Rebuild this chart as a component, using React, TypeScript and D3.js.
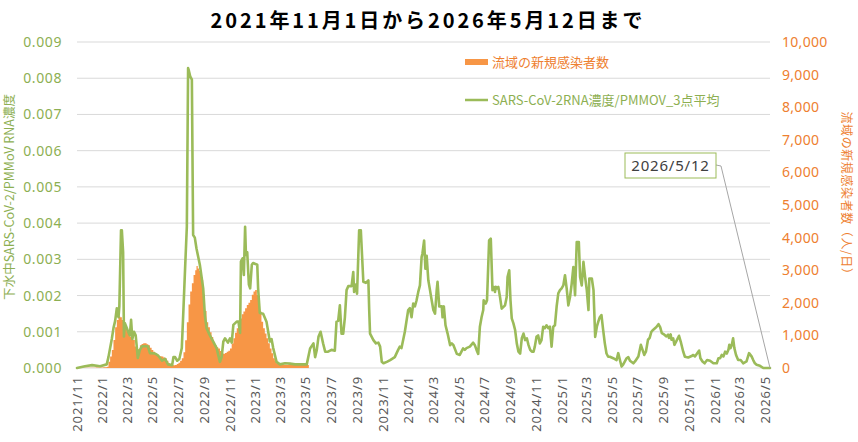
import React from "react";
import * as d3 from "d3";

const TITLE = "2021年11月1日から2026年5月12日まで";
const LEFT_TITLE = "下水中SARS-CoV-2/PMMoV RNA濃度";
const RIGHT_TITLE = "流域の新規感染者数（人/日）";
const LEGEND_CASES = "流域の新規感染者数";
const LEGEND_RNA = "SARS-CoV-2RNA濃度/PMMOV_3点平均";
const CALLOUT = "2026/5/12";

const startDate = "2021-11-01";
const endDate = "2026-05-12";

const leftTicks = [0, 0.001, 0.002, 0.003, 0.004, 0.005, 0.006, 0.007, 0.008, 0.009];
const rightTicks = [0, 1000, 2000, 3000, 4000, 5000, 6000, 7000, 8000, 9000, 10000];
const xTickLabels = [
  "2021/11", "2022/1", "2022/3", "2022/5", "2022/7", "2022/9", "2022/11",
  "2023/1", "2023/3", "2023/5", "2023/7", "2023/9", "2023/11",
  "2024/1", "2024/3", "2024/5", "2024/7", "2024/9", "2024/11",
  "2025/1", "2025/3", "2025/5", "2025/7", "2025/9", "2025/11",
  "2026/1", "2026/3", "2026/5",
];

// daily new cases in the basin (right axis), sampled readings
const cases: [string, number][] = [
  ["2021-11-01", 10], ["2021-11-16", 8], ["2021-12-01", 10], ["2021-12-16", 12], ["2021-12-26", 15],
  ["2022-01-03", 20], ["2022-01-07", 25], ["2022-01-11", 40], ["2022-01-15", 190], ["2022-01-19", 350],
  ["2022-01-23", 550], ["2022-01-27", 860], ["2022-01-31", 1250], ["2022-02-04", 1470], ["2022-02-08", 1590],
  ["2022-02-12", 1560], ["2022-02-16", 1470], ["2022-02-19", 1320], ["2022-02-23", 1220], ["2022-02-28", 1110],
  ["2022-03-03", 1060], ["2022-03-07", 960], ["2022-03-11", 910], ["2022-03-15", 860], ["2022-03-19", 660],
  ["2022-03-23", 550], ["2022-03-27", 580], ["2022-03-31", 700], ["2022-04-04", 740], ["2022-04-08", 760],
  ["2022-04-12", 760], ["2022-04-16", 730], ["2022-04-20", 700], ["2022-04-24", 620], ["2022-04-28", 550],
  ["2022-05-02", 500], ["2022-05-06", 450], ["2022-05-10", 400], ["2022-05-14", 350], ["2022-05-18", 360],
  ["2022-05-22", 350], ["2022-05-26", 320], ["2022-05-30", 300], ["2022-06-03", 220], ["2022-06-07", 145],
  ["2022-06-11", 110], ["2022-06-15", 90], ["2022-06-19", 85], ["2022-06-23", 90], ["2022-06-27", 120],
  ["2022-07-01", 160], ["2022-07-05", 220], ["2022-07-09", 300], ["2022-07-13", 480], ["2022-07-17", 850],
  ["2022-07-21", 1400], ["2022-07-25", 1950], ["2022-07-29", 2350], ["2022-08-02", 2600], ["2022-08-06", 2850],
  ["2022-08-10", 3000], ["2022-08-13", 3130], ["2022-08-16", 3050], ["2022-08-19", 2980], ["2022-08-22", 2850],
  ["2022-08-25", 2700], ["2022-08-29", 2250], ["2022-09-02", 1750], ["2022-09-06", 1400], ["2022-09-10", 1250],
  ["2022-09-14", 1100], ["2022-09-18", 950], ["2022-09-22", 800], ["2022-09-26", 700], ["2022-09-30", 640],
  ["2022-10-04", 600], ["2022-10-08", 520], ["2022-10-12", 450], ["2022-10-16", 440], ["2022-10-20", 460],
  ["2022-10-24", 500], ["2022-10-28", 530], ["2022-11-01", 600], ["2022-11-05", 750], ["2022-11-09", 910],
  ["2022-11-13", 1080], ["2022-11-17", 1220], ["2022-11-21", 1380], ["2022-11-25", 1520], ["2022-11-29", 1650],
  ["2022-12-03", 1730], ["2022-12-07", 1830], ["2022-12-11", 1930], ["2022-12-15", 2000], ["2022-12-19", 2085],
  ["2022-12-23", 2250], ["2022-12-27", 2350], ["2022-12-31", 2390], ["2023-01-04", 2240], ["2023-01-07", 2040],
  ["2023-01-11", 1730], ["2023-01-15", 1420], ["2023-01-19", 1220], ["2023-01-23", 1060], ["2023-01-27", 910],
  ["2023-01-31", 760], ["2023-02-04", 600], ["2023-02-08", 450], ["2023-02-12", 300], ["2023-02-16", 210],
  ["2023-02-20", 145], ["2023-02-24", 120], ["2023-03-04", 100], ["2023-03-12", 95], ["2023-03-20", 100],
  ["2023-03-28", 95], ["2023-04-05", 100], ["2023-04-13", 105], ["2023-04-21", 100], ["2023-04-29", 100],
  ["2023-05-05", 95],
];
const casesEnd = "2023-05-08";

// SARS-CoV-2 RNA / PMMoV, 3-point average (left axis)
const rna: [string, number][] = [
  ["2021-11-01", 0], ["2021-11-20", 0.00005], ["2021-12-07", 0.00008], ["2021-12-26", 0.00005],
  ["2022-01-11", 0.0001], ["2022-01-15", 0.0003], ["2022-01-23", 0.0008], ["2022-01-27", 0.0011],
  ["2022-01-31", 0.0013], ["2022-02-04", 0.00165], ["2022-02-08", 0.0014], ["2022-02-10", 0.0017],
  ["2022-02-14", 0.0038], ["2022-02-16", 0.0038], ["2022-02-19", 0.0032], ["2022-02-21", 0.00087],
  ["2022-02-23", 0.00124], ["2022-02-28", 0.0011], ["2022-03-03", 0.001], ["2022-03-07", 0.0009],
  ["2022-03-10", 0.00133], ["2022-03-13", 0.0008], ["2022-03-17", 0.001], ["2022-03-21", 0.0009],
  ["2022-03-26", 0.00028], ["2022-03-31", 0.0005], ["2022-04-05", 0.0006], ["2022-04-19", 0.0006],
  ["2022-04-24", 0.00041], ["2022-05-06", 0.0004], ["2022-05-13", 0.00035], ["2022-05-23", 0.0002],
  ["2022-05-30", 0.00025], ["2022-06-06", 0.0001], ["2022-06-16", 0.00008], ["2022-06-19", 0.0003],
  ["2022-06-23", 0.0003], ["2022-06-28", 0.0002], ["2022-07-03", 0.00025], ["2022-07-09", 0.00055],
  ["2022-07-13", 0.00165], ["2022-07-17", 0.0028], ["2022-07-21", 0.0039], ["2022-07-24", 0.00828],
  ["2022-07-26", 0.0082], ["2022-07-29", 0.00805], ["2022-08-02", 0.00796], ["2022-08-05", 0.00367],
  ["2022-08-09", 0.0036], ["2022-08-13", 0.0033], ["2022-08-21", 0.00285], ["2022-08-29", 0.0022],
  ["2022-09-02", 0.00146], ["2022-09-06", 0.0011], ["2022-09-14", 0.0009], ["2022-09-22", 0.00073],
  ["2022-09-30", 0.00055], ["2022-10-08", 0.00017], ["2022-10-12", 0.0003], ["2022-10-16", 0.00073],
  ["2022-10-20", 0.00082], ["2022-10-27", 0.0007], ["2022-11-01", 0.00082], ["2022-11-05", 0.0007],
  ["2022-11-09", 0.00119], ["2022-11-17", 0.00128], ["2022-11-21", 0.00128], ["2022-11-25", 0.00097],
  ["2022-11-27", 0.00294], ["2022-12-01", 0.00303], ["2022-12-04", 0.00257], ["2022-12-07", 0.0039],
  ["2022-12-09", 0.00312], ["2022-12-12", 0.0032], ["2022-12-16", 0.0023], ["2022-12-19", 0.0022],
  ["2022-12-23", 0.00285], ["2022-12-26", 0.0029], ["2023-01-05", 0.00285], ["2023-01-07", 0.0022],
  ["2023-01-11", 0.00152], ["2023-01-19", 0.0015], ["2023-01-27", 0.00128], ["2023-02-04", 0.00073],
  ["2023-02-08", 0.0008], ["2023-02-12", 0.00055], ["2023-02-20", 0.00017], ["2023-02-28", 0.0001],
  ["2023-03-12", 0.00013], ["2023-03-24", 0.00012], ["2023-04-05", 0.0001], ["2023-04-17", 0.0001],
  ["2023-05-03", 0.0001], ["2023-05-11", 0.00054], ["2023-05-19", 0.00068], ["2023-05-23", 0.0003],
  ["2023-05-27", 0.0005], ["2023-05-31", 0.00086], ["2023-06-05", 0.001], ["2023-06-11", 0.00068],
  ["2023-06-16", 0.00045], ["2023-06-23", 0.00045], ["2023-07-01", 0.0005], ["2023-07-09", 0.00048],
  ["2023-07-13", 0.00128], ["2023-07-17", 0.0013], ["2023-07-21", 0.00173], ["2023-07-25", 0.00095],
  ["2023-07-29", 0.00095], ["2023-08-02", 0.0014], ["2023-08-06", 0.00215], ["2023-08-10", 0.00226],
  ["2023-08-18", 0.00226], ["2023-08-22", 0.00265], ["2023-08-24", 0.0021], ["2023-08-28", 0.0023],
  ["2023-08-31", 0.00205], ["2023-09-05", 0.0038], ["2023-09-09", 0.0038], ["2023-09-15", 0.00238],
  ["2023-09-21", 0.00235], ["2023-09-27", 0.00242], ["2023-09-29", 0.0016], ["2023-10-01", 0.00095],
  ["2023-10-09", 0.00077], ["2023-10-15", 0.00068], ["2023-10-21", 0.0007], ["2023-10-25", 0.00059],
  ["2023-10-29", 0.00017], ["2023-11-02", 0.00013], ["2023-11-10", 0.00017], ["2023-11-18", 0.00022],
  ["2023-11-29", 0.0003], ["2023-12-07", 0.0005], ["2023-12-11", 0.00059], ["2023-12-15", 0.00055],
  ["2023-12-23", 0.001], ["2023-12-31", 0.0016], ["2024-01-04", 0.00165], ["2024-01-08", 0.0014],
  ["2024-01-12", 0.00178], ["2024-01-16", 0.0017], ["2024-01-20", 0.00187], ["2024-01-24", 0.0021],
  ["2024-01-28", 0.00228], ["2024-02-01", 0.00306], ["2024-02-03", 0.00316], ["2024-02-07", 0.00352],
  ["2024-02-10", 0.00274], ["2024-02-13", 0.0031], ["2024-02-17", 0.00242], ["2024-02-21", 0.00215],
  ["2024-02-25", 0.00187], ["2024-02-29", 0.0016], ["2024-03-04", 0.0015], ["2024-03-08", 0.00215],
  ["2024-03-10", 0.00238], ["2024-03-14", 0.0017], ["2024-03-20", 0.0017], ["2024-03-22", 0.0014],
  ["2024-03-25", 0.0017], ["2024-03-29", 0.00118], ["2024-04-03", 0.00095], ["2024-04-09", 0.00063],
  ["2024-04-13", 0.00068], ["2024-04-17", 0.00063], ["2024-04-25", 0.00039], ["2024-05-02", 0.00036],
  ["2024-05-10", 0.00054], ["2024-05-14", 0.0005], ["2024-05-18", 0.00055], ["2024-05-26", 0.00059],
  ["2024-06-03", 0.0007], ["2024-06-07", 0.00063], ["2024-06-11", 0.0005], ["2024-06-15", 0.00039],
  ["2024-06-19", 0.00114], ["2024-06-23", 0.0014], ["2024-06-27", 0.0016], ["2024-06-28", 0.00187],
  ["2024-07-03", 0.00178], ["2024-07-06", 0.00187], ["2024-07-11", 0.00352], ["2024-07-15", 0.00357],
  ["2024-07-19", 0.00215], ["2024-07-22", 0.00224], ["2024-07-25", 0.0021], ["2024-07-27", 0.00224],
  ["2024-07-30", 0.0022], ["2024-08-02", 0.00224], ["2024-08-06", 0.00196], ["2024-08-10", 0.00164],
  ["2024-08-18", 0.00173], ["2024-08-22", 0.00196], ["2024-08-24", 0.00251], ["2024-08-28", 0.0027],
  ["2024-08-31", 0.00187], ["2024-09-03", 0.00137], ["2024-09-07", 0.00123], ["2024-09-11", 0.00105],
  ["2024-09-15", 0.00068], ["2024-09-19", 0.00045], ["2024-09-23", 0.0004], ["2024-09-27", 0.00082],
  ["2024-10-01", 0.00095], ["2024-10-05", 0.00077], ["2024-10-09", 0.00082], ["2024-10-13", 0.00063],
  ["2024-10-17", 0.0005], ["2024-10-21", 0.00045], ["2024-10-25", 0.00045], ["2024-10-28", 0.00059],
  ["2024-11-01", 0.00086], ["2024-11-05", 0.0009], ["2024-11-09", 0.00068], ["2024-11-13", 0.00077],
  ["2024-11-17", 0.00114], ["2024-11-21", 0.0011], ["2024-11-25", 0.00118], ["2024-11-29", 0.0011],
  ["2024-12-03", 0.00114], ["2024-12-07", 0.00059], ["2024-12-11", 0.00114], ["2024-12-15", 0.00118],
  ["2024-12-19", 0.00169], ["2024-12-23", 0.00206], ["2024-12-27", 0.00215], ["2024-12-31", 0.0022],
  ["2025-01-04", 0.00228], ["2025-01-08", 0.00256], ["2025-01-12", 0.0022], ["2025-01-16", 0.00173],
  ["2025-01-20", 0.00196], ["2025-01-24", 0.00233], ["2025-01-28", 0.00279], ["2025-02-01", 0.00201],
  ["2025-02-05", 0.00348], ["2025-02-10", 0.00348], ["2025-02-13", 0.00251], ["2025-02-17", 0.00228],
  ["2025-02-21", 0.00293], ["2025-02-25", 0.00251], ["2025-03-01", 0.00215], ["2025-03-05", 0.0016],
  ["2025-03-07", 0.00247], ["2025-03-13", 0.00247], ["2025-03-17", 0.00215], ["2025-03-21", 0.00086],
  ["2025-03-25", 0.00114], ["2025-03-29", 0.0013], ["2025-04-01", 0.0014], ["2025-04-05", 0.00146],
  ["2025-04-09", 0.00105], ["2025-04-13", 0.00068], ["2025-04-17", 0.0004], ["2025-04-21", 0.00031],
  ["2025-04-25", 0.00031], ["2025-05-03", 0.00027], ["2025-05-11", 0.00022], ["2025-05-15", 0.00041],
  ["2025-05-19", 0.00022], ["2025-05-23", 0.00004], ["2025-05-27", 0.0001], ["2025-06-04", 0.00027],
  ["2025-06-08", 0.0003], ["2025-06-12", 0.0002], ["2025-06-20", 0.00013], ["2025-06-24", 0.00018],
  ["2025-07-02", 0.00032], ["2025-07-08", 0.00064], ["2025-07-12", 0.0005], ["2025-07-16", 0.00036],
  ["2025-07-20", 0.00045], ["2025-07-25", 0.00078], ["2025-07-29", 0.00083], ["2025-08-02", 0.001],
  ["2025-08-06", 0.00105], ["2025-08-14", 0.00113], ["2025-08-19", 0.00121], ["2025-08-23", 0.00113],
  ["2025-08-27", 0.00096], ["2025-09-02", 0.00092], ["2025-09-07", 0.00087], ["2025-09-11", 0.00092],
  ["2025-09-13", 0.00083], ["2025-09-17", 0.00093], ["2025-09-19", 0.00078], ["2025-09-23", 0.00082],
  ["2025-09-26", 0.00064], ["2025-09-30", 0.00073], ["2025-10-07", 0.00089], ["2025-10-11", 0.00073],
  ["2025-10-17", 0.00045], ["2025-10-21", 0.00031], ["2025-10-29", 0.00029], ["2025-11-06", 0.00033],
  ["2025-11-10", 0.00036], ["2025-11-14", 0.00032], ["2025-11-19", 0.0004], ["2025-11-24", 0.00048],
  ["2025-11-27", 0.00027], ["2025-12-02", 0.00018], ["2025-12-07", 0.00013], ["2025-12-13", 0.00022],
  ["2025-12-20", 0.0002], ["2025-12-28", 0.00013], ["2026-01-05", 0.00013], ["2026-01-09", 0.00027],
  ["2026-01-13", 0.00027], ["2026-01-17", 0.00036], ["2026-01-21", 0.00032], ["2026-01-25", 0.00045],
  ["2026-01-29", 0.0004], ["2026-02-02", 0.00051], ["2026-02-04", 0.00064], ["2026-02-07", 0.00055],
  ["2026-02-10", 0.00064], ["2026-02-13", 0.00082], ["2026-02-16", 0.00055], ["2026-02-20", 0.00036],
  ["2026-02-25", 0.00022], ["2026-03-03", 0.00022], ["2026-03-09", 0.00013], ["2026-03-17", 0.00018],
  ["2026-03-23", 0.00041], ["2026-03-29", 0.00032], ["2026-04-02", 0.00022], ["2026-04-06", 0.00013],
  ["2026-04-10", 0.00009], ["2026-04-18", 0.00006], ["2026-04-26", 0], ["2026-05-12", 0],
];

const W = 858;
const H = 442;
const M = { left: 77, right: 770, top: 42, bottom: 368 };

const GREEN = "#9BBB59";
const GREEN_TEXT = "#8DAF52";
const ORANGE = "#F79646";
const ORANGE_TEXT = "#EE8030";
const GRID = "#D9D9D9";
const FONT = "'Noto Sans', 'Noto Sans CJK JP', sans-serif";
const CJK = "'Noto Sans CJK JP', 'Noto Sans', sans-serif";

const parseDay = d3.timeParse("%Y-%m-%d");
const parseMonth = d3.timeParse("%Y/%m");

type Pt = { date: Date; v: number };

export default function App() {
  const x = d3.scaleTime()
    .domain([parseDay(startDate)!, parseDay(endDate)!])
    .range([M.left, M.right]);
  const yL = d3.scaleLinear().domain([0, 0.009]).range([M.bottom, M.top]);
  const yR = d3.scaleLinear().domain([0, 10000]).range([M.bottom, M.top]);

  const casePts: Pt[] = cases.map(([d, v]) => ({ date: parseDay(d)!, v }));
  // the last reading's bar spans to the end of reporting
  const caseSteps: Pt[] = [...casePts, { date: parseDay(casesEnd)!, v: casePts[casePts.length - 1].v }];
  const rnaPts: Pt[] = rna.map(([d, v]) => ({ date: parseDay(d)!, v }));

  const bars = d3.area<Pt>()
    .curve(d3.curveStepAfter)
    .x((d) => x(d.date))
    .y0(yR(0))
    .y1((d) => yR(d.v));

  const line = d3.line<Pt>()
    .x((d) => x(d.date))
    .y((d) => yL(d.v));

  const lastRna = rnaPts[rnaPts.length - 1];
  const calloutEnd = [x(lastRna.date), yL(lastRna.v)];

  return (
    <div style={{ position: "absolute", left: 0, top: 0 }}>
      <svg width={W} height={H} style={{ display: "block", background: "#fff" }}>
        <rect x={0} y={0} width={W} height={H} fill="#fff" />
        {/* title */}
        <text x={W / 2 - 1} y={28} textAnchor="middle" fontFamily={CJK} fontWeight={700}
          fontSize={20} letterSpacing={2.9} fill="#000">{TITLE}</text>

        {/* gridlines */}
        {leftTicks.map((t) => (
          <line key={"g" + t} x1={M.left} x2={M.right} y1={yL(t)} y2={yL(t)}
            stroke={GRID} strokeWidth={1} />
        ))}

        {/* left tick labels */}
        {leftTicks.map((t) => (
          <text key={"l" + t} x={62} y={yL(t)} dy="0.36em" textAnchor="end"
            fontFamily={FONT} fontSize={14} letterSpacing={0.6} fill={GREEN_TEXT}>
            {d3.format(".3f")(t)}
          </text>
        ))}

        {/* right tick labels */}
        {rightTicks.map((t) => (
          <text key={"r" + t} x={782} y={yR(t)} dy="0.36em" textAnchor="start"
            fontFamily={FONT} fontSize={14} letterSpacing={0.3} fill={ORANGE_TEXT}>
            {d3.format(",")(t)}
          </text>
        ))}

        {/* x tick labels */}
        {xTickLabels.map((lbl) => {
          const xx = x(parseMonth(lbl)!);
          return (
            <text key={lbl} transform={`translate(${xx + 4.5},${M.bottom + 8}) rotate(-90)`}
              textAnchor="end" fontFamily={FONT} fontSize={13} letterSpacing={0.9} fill="#595959">
              {lbl}
            </text>
          );
        })}

        {/* case bars */}
        <path d={bars(caseSteps) || ""} fill={ORANGE} stroke="none" />

        {/* RNA line */}
        <path d={line(rnaPts) || ""} fill="none" stroke={GREEN} strokeWidth={2.6}
          strokeLinejoin="round" strokeLinecap="round" />

        {/* axis titles */}
        <text transform="translate(14,197) rotate(-90)" textAnchor="middle" fontFamily={CJK}
          fontSize={12.5} fill={GREEN_TEXT}>{LEFT_TITLE}</text>
        <text transform="translate(842,196) rotate(90)" textAnchor="middle" fontFamily={CJK}
          fontSize={12} letterSpacing={0.6} fill={ORANGE_TEXT}>{RIGHT_TITLE}</text>

        {/* legend */}
        <rect x={465} y={59} width={23} height={6} fill={ORANGE} />
        <text x={492} y={66.5} fontFamily={CJK} fontSize={13} fill={ORANGE_TEXT}>{LEGEND_CASES}</text>
        <line x1={465} x2={488} y1={100} y2={100} stroke={GREEN} strokeWidth={2.5} />
        <text x={492} y={104.5} fontFamily={CJK} fontSize={13} fill={GREEN_TEXT}>{LEGEND_RNA}</text>

        {/* callout */}
        <polyline points={`716,165 721,166 ${calloutEnd[0]},${calloutEnd[1]}`} fill="none"
          stroke="#A6A6A6" strokeWidth={1} />
        <rect x={625} y={153} width={91} height={25} fill="#fff" stroke={GREEN} strokeWidth={1} />
        <text x={670.5} y={171} textAnchor="middle" fontFamily={FONT} fontSize={15}
          letterSpacing={0.8} fill="#404040">{CALLOUT}</text>
      </svg>
    </div>
  );
}
